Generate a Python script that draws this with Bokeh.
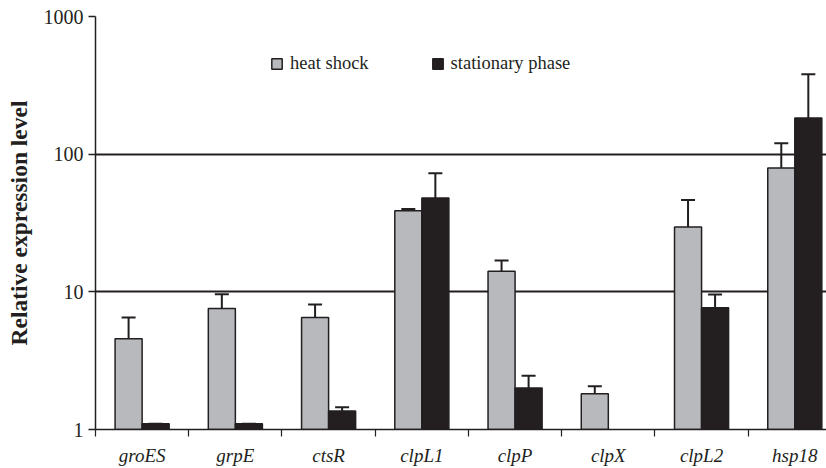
from bokeh.plotting import figure
from bokeh.models import (ColumnDataSource, Range1d, FixedTicker, NumeralTickFormatter,
                          Whisker, TeeHead, Legend, LegendItem)
from bokeh.embed import file_html
from bokeh.resources import INLINE

genes = ["groES", "grpE", "ctsR", "clpL1", "clpP", "clpX", "clpL2", "hsp18"]
heat_shock = [4.56, 7.57, 6.5, 38.8, 14.1, 1.82, 29.6, 79.2]
heat_shock_err_top = [6.5, 9.6, 8.09, 39.9, 16.9, 2.06, 46.4, 120.0]
stationary = [1.1, 1.1, 1.36, 48.0, 2.0, float("nan"), 7.65, 183.0]
stationary_err_top = [1.1, 1.1, 1.45, 72.8, 2.46, float("nan"), 9.56, 380.0]

GREY = "#b8b9bc"
DARK = "#231f20"
SERIF = "Liberation Serif"
BW = 0.29

centers = [i + 0.5 for i in range(len(genes))]
hs_src = ColumnDataSource(dict(x=[c - BW / 2 for c in centers], top=heat_shock, err=heat_shock_err_top))
st_src = ColumnDataSource(dict(x=[c + BW / 2 for c in centers], top=stationary, err=stationary_err_top))

p = figure(width=826, height=468, y_axis_type="log",
           x_range=Range1d(0, 7.84), y_range=Range1d(1, 1000),
           output_backend="svg", toolbar_location=None,
           min_border_left=95, min_border_right=0, min_border_top=16, min_border_bottom=38)
p.outline_line_color = None
p.background_fill_color = "white"
p.border_fill_color = "white"

r1 = p.vbar(x="x", top="top", bottom=1, width=BW, source=hs_src,
            fill_color=GREY, line_color=DARK, line_width=1.5)
r2 = p.vbar(x="x", top="top", bottom=1, width=BW, source=st_src,
            fill_color=DARK, line_color=DARK, line_width=1.5)

for src in (hs_src, st_src):
    w = Whisker(base="x", lower="top", upper="err", source=src, dimension="height",
                line_color=DARK, line_width=2,
                lower_head=None,
                upper_head=TeeHead(size=14, line_color=DARK, line_width=2))
    p.add_layout(w)

# grid
p.xgrid.grid_line_color = None
p.ygrid.ticker = FixedTicker(ticks=[10, 100, 1000])
p.ygrid.grid_line_color = DARK
p.ygrid.grid_line_width = 2
p.ygrid.grid_line_alpha = 1.0

# y axis
p.yaxis.ticker = FixedTicker(ticks=[1, 10, 100, 1000])
p.yaxis.formatter = NumeralTickFormatter(format="0")
p.yaxis.axis_label = "Relative expression level"
p.yaxis.axis_label_text_font = SERIF
p.yaxis.axis_label_text_font_style = "bold"
p.yaxis.axis_label_text_font_size = "23.5px"
p.yaxis.axis_label_text_color = DARK
p.yaxis.axis_label_standoff = 9
p.yaxis.major_label_text_font = SERIF
p.yaxis.major_label_text_font_size = "20px"
p.yaxis.major_label_text_color = DARK
p.yaxis.major_label_standoff = 5
p.yaxis.major_tick_out = 7
p.yaxis.major_tick_in = 0
p.yaxis.major_tick_line_color = DARK
p.yaxis.major_tick_line_width = 1.5
p.yaxis.minor_tick_line_color = None
p.yaxis.axis_line_color = DARK
p.yaxis.axis_line_width = 1.5

# x axis
p.xaxis.ticker = FixedTicker(ticks=centers, minor_ticks=list(range(len(genes) + 1)))
p.xaxis.major_label_overrides = {c: g for c, g in zip(centers, genes)}
p.xaxis.major_label_text_font = SERIF
p.xaxis.major_label_text_font_style = "italic"
p.xaxis.major_label_text_font_size = "19px"
p.xaxis.major_label_text_color = DARK
p.xaxis.major_label_standoff = 8
p.xaxis.major_tick_line_color = None
p.xaxis.major_tick_out = 0
p.xaxis.minor_tick_out = 7
p.xaxis.minor_tick_in = 0
p.xaxis.minor_tick_line_color = DARK
p.xaxis.minor_tick_line_width = 1.2
p.xaxis.axis_line_color = DARK
p.xaxis.axis_line_width = 1.5

legend = Legend(items=[LegendItem(label="heat shock", renderers=[r1]),
                       LegendItem(label="stationary phase", renderers=[r2])],
                location=(175, 355), orientation="horizontal",
                glyph_width=13, glyph_height=13, label_standoff=7, spacing=62,
                padding=0, margin=0, border_line_color=None, background_fill_alpha=0,
                label_text_font=SERIF, label_text_font_size="18.5px", label_text_color=DARK,
                label_height=13)
p.add_layout(legend)

open("out.html", "w").write(file_html(p, INLINE))
